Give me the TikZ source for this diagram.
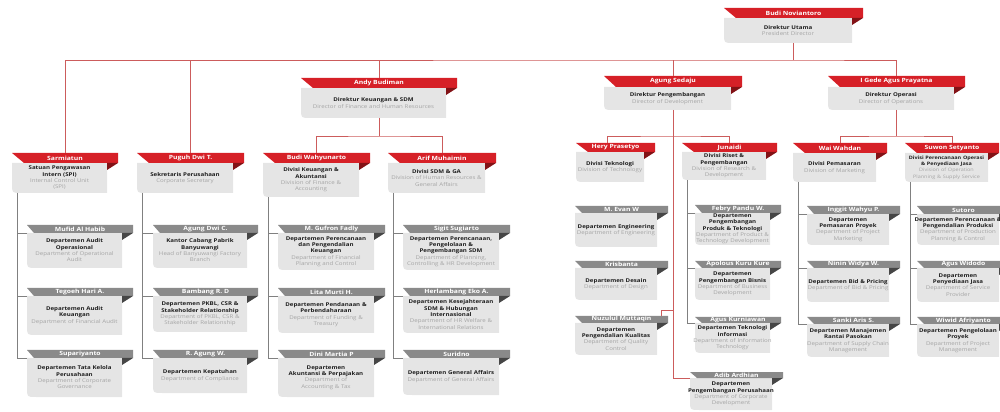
\documentclass[tikz,border=0pt]{standalone}
\usepackage{fontspec}
\setmainfont[FakeStretch=1.18]{Open Sans}
\usetikzlibrary{positioning,calc}

\definecolor{hdred}{RGB}{214,32,39}
\definecolor{foldred}{RGB}{130,18,22}
\definecolor{hdgray}{RGB}{138,138,138}
\definecolor{foldgray}{RGB}{70,70,70}
\definecolor{boxgray}{RGB}{229,229,229}
\definecolor{linered}{RGB}{204,92,92}
\definecolor{linegray}{RGB}{128,128,128}
\definecolor{titleblack}{RGB}{30,30,30}
\definecolor{subgray}{RGB}{165,165,165}

\tikzset{
  redline/.style={draw=linered, line width=0.6pt},
  grayline/.style={draw=linegray, line width=0.6pt},
  nametext/.style={text=white, font=\fontsize{4.1}{4.6}\selectfont\bfseries, inner sep=0pt},
  boxtext/.style={text=titleblack, font=\fontsize{3.7}{4.5}\selectfont, align=center,
    text width=5cm, inner sep=0pt},
}
\newcommand{\smallish}{\fontsize{3.3}{4.5}\selectfont}

% #1 name, #2 left x, #3 ribbon right x, #4 ribbon top, #5 ribbon bottom, #6 box bottom,
% #7 person, #8 title (bold), #9 english title
\newcommand{\orgunit}[9]{%
  \fill[boxgray] (#2,#5) -- (#3-11,#5) -- (#3-11,#6) -- (#2+9,#6)
    .. controls (#2,#6) .. (#2,#6-9) -- cycle;
  \fill[\hdcol] (#2,#4) -- (#3,#4) -- (#3,#5) -- (#2+\hdslant,#5) -- cycle;
  \fill[\hdfold] (#3-11,#5) -- (#3,#5) -- (#3-11,#5+7) -- cycle;
  \node[nametext] (#1-h) at ({(#2+#3)/2},{(#4+#5)/2}) {#7};
  \node[boxtext] (#1) at ({(#2+#3-11)/2},{(#5+#6)/2})
    {{\bfseries #8}\\{\color{subgray}#9}};
  \coordinate (#1-top) at ({(#2+#3)/2},#4);
  \coordinate (#1-base) at ({(#2+#3)/2},#6);
  \coordinate (#1-foot) at (#2+5,#6);
  \coordinate (#1-in) at (#2,#5);
}
\newcommand{\redunit}{\def\hdcol{hdred}\def\hdfold{foldred}\def\hdslant{12}\orgunit}
\newcommand{\grayunit}{\def\hdcol{hdgray}\def\hdfold{foldgray}\def\hdslant{7}\orgunit}

\begin{document}
\begin{tikzpicture}[x=0.025cm, y=-0.025cm]
    \useasboundingbox (0,0) rectangle (1000,412);

    % Directors
    \redunit{bn}{724}{863}{8}{18}{43}{Budi Noviantoro}{Direktur Utama}{President Director}
    \redunit{ab}{301}{457}{78}{88}{118}{Andy Budiman}{Direktur Keuangan \& SDM}{Director of Finance and Human Resources}
    \redunit{as}{604}{742}{76}{87}{110}{Agung Sedaju}{Direktur Pengembangan}{Director of Development}
    \redunit{ig}{828}{965}{76}{87}{110}{I Gede Agus Prayatna}{Direktur Operasi}{Director of Operations}

    % Divisions
    \redunit{sm}{12}{118}{153}{163}{193}{Sarmiatun}{Satuan Pengawasan\\Intern (SPI)}{Internal Control Unit\\(SPI)}
    \redunit{pd}{137}{244}{153}{163}{193}{Puguh Dwi T.}{Sekretaris Perusahaan}{Corporate Secretary}
    \redunit{bw}{263}{370}{153}{163}{197}{Budi Wahyunarto}{Divisi Keuangan \&\\Akuntansi}{Division of Finance \&\\Accounting}
    \redunit{am}{388}{496}{153}{163}{193}{Arif Muhaimin}{Divisi SDM \& GA}{Division of Human Resources \&\\General Affairs}
    \redunit{hp}{576}{655}{143}{152}{182}{Hery Prasetyo}{Divisi Teknologi}{Division of Technology}
    \redunit{jn}{682}{777}{143}{152}{180}{Junaidi}{Divisi Riset \&\\Pengembangan}{Division of Research \&\\Development}
    \redunit{ww}{793}{887}{143}{153}{182}{Wai Wahdan}{Divisi Pemasaran}{Division of Marketing}
    \redunit{ss}{905}{999}{143}{153}{182}{Suwon Setyanto}{\smallish Divisi Perencanaan Operasi\\\& Penyediaan Jasa}{\smallish Division of Operation\\Planning \& Supply Service}

    % Departments
    \grayunit{mh}{27}{133}{225}{233}{268}{Mufid Al Habib}{Departemen Audit\\Operasional}{Department of Operational\\Audit}
    \grayunit{th}{27}{133}{288}{296}{335}{Tegoeh Hari A.}{Departemen Audit\\Keuangan}{Department of Financial Audit}
    \grayunit{sp}{27}{133}{350}{358}{397}{Supariyanto}{Departemen Tata Kelola\\Perusahaan}{Department of Corporate\\Governance}
    \grayunit{ad}{153}{258}{225}{233}{268}{Agung Dwi C.}{Kantor Cabang Pabrik\\Banyuwangi}{Head of Banyuwangi Factory\\Branch}
    \grayunit{br}{153}{258}{288}{296}{332}{Bambang R. D}{Departemen PKBL, CSR \&\\Stakeholder Relationship}{Department of PKBL, CSR \&\\Stakeholder Relationship}
    \grayunit{ra}{153}{258}{350}{358}{393}{R. Agung W.}{Departemen Kepatuhan}{Department of Compliance}
    \grayunit{gf}{278}{385}{225}{233}{270}{M. Gufron Fadly}{Departemen Perencanaan\\dan Pengendalian\\Keuangan}{Department of Financial\\Planning and Control}
    \grayunit{lm}{278}{385}{288}{296}{333}{Lita Murti H.}{Departemen Pendanaan \&\\Perbendaharaan}{Department of Funding \&\\Treasury}
    \grayunit{dm}{278}{385}{350}{358}{397}{Dini Martia P}{Departemen\\Akuntansi \& Perpajakan}{Department of\\Accounting \& Tax}
    \grayunit{sg}{403}{510}{225}{233}{270}{Sigit Sugiarto}{Departemen Perencanaan,\\Pengelolaan \&\\Pengembangan SDM}{Department of Planning,\\Controlling \& HR Development}
    \grayunit{he}{403}{510}{288}{296}{333}{Herlambang Eko A.}{Departemen Kesejahteraan\\SDM \& Hubungan\\Internasional}{Department of HR Welfare \&\\International Relations}
    \grayunit{sr}{403}{510}{350}{358}{395}{Suridno}{Departemen General Affairs}{Department of General Affairs}
    \grayunit{ew}{575}{668}{206}{213}{247}{M. Evan W}{Departemen Engineering}{Department of Engineering}
    \grayunit{kb}{575}{668}{261}{268}{300}{Krisbanta}{Departemen Desain}{Department of Design}
    \grayunit{nm}{575}{668}{316}{323}{355}{Nuzulul Muttaqin}{Departemen\\Pengendalian Kualitas}{Department of Quality\\Control}
    \grayunit{fp}{695}{781}{205}{213}{245}{Febry Pandu W.}{Departemen\\Pengembangan\\Produk \& Teknologi}{Department of Product \&\\Technology Development}
    \grayunit{ak}{695}{781}{261}{268}{300}{Apolous Kuru Kure}{Departemen\\Pengembangan Bisnis}{Department of Business\\Development}
    \grayunit{ku}{695}{781}{317}{323}{353}{Agus Kurniawan}{Departemen Teknologi\\Informasi}{Department of Information\\Technology}
    \grayunit{aa}{690}{783}{372}{378}{410}{Adib Ardhian}{Departemen\\Pengembangan Perusahaan}{Department of Corporate\\Development}
    \grayunit{iw}{807}{900}{206}{214}{245}{Inggit Wahyu P.}{Departemen\\Pemasaran Proyek}{Department of Project\\Marketing}
    \grayunit{nw}{807}{900}{261}{268}{302}{Ninin Widya W.}{Departemen Bid \& Pricing}{Department of Bid \& Pricing}
    \grayunit{sa}{807}{900}{317}{324}{357}{Sanki Aris S.}{Departemen Manajemen\\Rantai Pasokan}{Department of Supply Chain\\Management}
    \grayunit{st}{917}{1010}{206}{214}{245}{Sutoro}{Departemen Perencanaan \&\\Pengendalian Produksi}{Department of Production\\Planning \& Control}
    \grayunit{aw}{917}{1010}{261}{268}{302}{Agus Widodo}{Departemen\\Penyediaan Jasa}{Department of Service\\Provider}
    \grayunit{wa}{917}{1010}{317}{324}{357}{Wiwid Afriyanto}{Departemen Pengelolaan\\Proyek}{Department of Project\\Management}

    % Director lines
    \draw[redline] (bn-base) -- ++(0,17) coordinate (bnbus);
    \draw[redline] (sm-top) |- (bnbus) -| (ig-top);
    \draw[redline] (pd-top) -- (pd-top |- bnbus);
    \draw[redline] (ab-top) -- (ab-top |- bnbus);
    \draw[redline] (as-top) -- (as-top |- bnbus);

    % Division lines
    \draw[redline] (ab-base) -- ++(0,18) coordinate (abbus);
    \draw[redline] (bw-top) |- (abbus) -| (am-top);
    \coordinate (hp-drop) at (607,143);
    \draw[redline] (as-base) |- (aa-in);
    \draw[redline] (as-base) ++(0,26) coordinate (asbus);
    \draw[redline] (hp-drop) |- (asbus) -| (jn-top);
    \coordinate (nm-hook) at (661,316);
    \draw[redline] (nm-hook) -- ++(0,-6) -| (asbus);
    \draw[redline] (ig-base) -- ++(0,26) coordinate (igbus);
    \draw[redline] (ww-top) |- (igbus) -| (ss-top);

    % Department lines
    \draw[grayline] (sm-foot) |- (sp-in);
    \draw[grayline] (mh-in) -- (sm-foot |- mh-in);
    \draw[grayline] (th-in) -- (sm-foot |- th-in);
    \draw[grayline] (pd-foot) |- (ra-in);
    \draw[grayline] (ad-in) -- (pd-foot |- ad-in);
    \draw[grayline] (br-in) -- (pd-foot |- br-in);
    \draw[grayline] (bw-foot) |- (dm-in);
    \draw[grayline] (gf-in) -- (bw-foot |- gf-in);
    \draw[grayline] (lm-in) -- (bw-foot |- lm-in);
    \draw[grayline] (am-foot) |- (sr-in);
    \draw[grayline] (sg-in) -- (am-foot |- sg-in);
    \draw[grayline] (he-in) -- (am-foot |- he-in);
    \draw[grayline] (jn-foot) |- (ku-in);
    \draw[grayline] (fp-in) -- (jn-foot |- fp-in);
    \draw[grayline] (ak-in) -- (jn-foot |- ak-in);
    \draw[grayline] (ww-foot) |- (sa-in);
    \draw[grayline] (iw-in) -- (ww-foot |- iw-in);
    \draw[grayline] (nw-in) -- (ww-foot |- nw-in);
    \draw[grayline] (ss-foot) |- (wa-in);
    \draw[grayline] (st-in) -- (ss-foot |- st-in);
    \draw[grayline] (aw-in) -- (ss-foot |- aw-in);
\end{tikzpicture}
\end{document}
